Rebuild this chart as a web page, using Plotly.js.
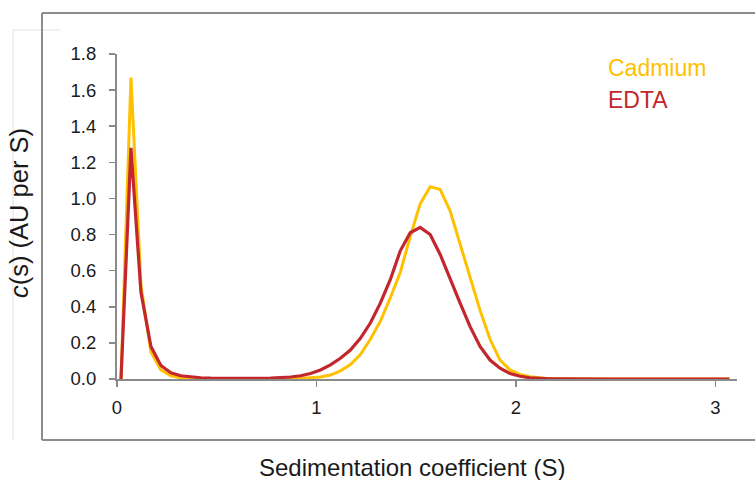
<!DOCTYPE html>
<html>
<head>
<meta charset="utf-8">
<script src="https://cdn.plot.ly/plotly-3.0.1.min.js"></script>
<style>html,body{margin:0;padding:0;background:#fff;}#chart{width:755px;height:480px;}</style>
</head>
<body>
<div id="chart"></div>
<script>
// Sedimentation coefficient (S)
const sedS = [0.02,0.07,0.12,0.17,0.22,0.27,0.32,0.37,0.42,0.47,0.52,0.57,0.62,0.67,0.72,0.77,0.82,0.87,0.92,0.97,
  1.02,1.07,1.12,1.17,1.22,1.27,1.32,1.37,1.42,1.47,1.52,1.57,1.62,1.67,1.72,1.77,1.82,1.87,1.92,1.97,
  2.02,2.07,2.12,2.17,2.22,2.27,2.32,2.37,2.42,2.47,2.52,2.57,2.62,2.67,2.72,2.77,2.82,2.87,2.92,2.97,3.02,3.07];
// c(s) Cadmium
const cadmium = [0,1.67,0.52,0.15,0.05,0.018,0.007,0.003,0.002,0.001,0.001,0.001,0.001,0.001,0.001,0.001,0.001,0.002,0.004,0.007,
  0.011,0.022,0.045,0.08,0.135,0.22,0.32,0.45,0.59,0.79,0.97,1.065,1.05,0.93,0.75,0.565,0.38,0.22,0.105,0.05,
  0.025,0.012,0.005,0.002,0.001,0,0,0,0,0,0,0,0,0,0,0,0,0,0,0,0,0];
// c(s) EDTA
const edta = [0,1.28,0.48,0.18,0.075,0.035,0.018,0.011,0.007,0.005,0.004,0.003,0.003,0.003,0.004,0.005,0.007,0.011,0.018,0.03,
  0.05,0.078,0.115,0.16,0.225,0.31,0.42,0.55,0.71,0.81,0.84,0.80,0.69,0.55,0.42,0.29,0.18,0.105,0.06,0.03,
  0.015,0.007,0.003,0.001,0.001,0,0,0,0,0,0,0,0,0,0,0,0,0,0,0,0,0];
const seriesNames = ['Cadmium','EDTA'];
const seriesColors = ['#FFC000','#C1272D'];

const font = 'Liberation Sans, Arial, sans-serif';
const traces = [
  {x: sedS, y: cadmium, name: seriesNames[0], type: 'scatter', mode: 'lines', line: {color: seriesColors[0], width: 3}},
  {x: sedS, y: edta, name: seriesNames[1], type: 'scatter', mode: 'lines', line: {color: seriesColors[1], width: 3.2}}
];

function px(x){return (x-117)/620;}
function py(y){return (379-y)/325;}

const layout = {
  width: 755, height: 480,
  margin: {l: 117, r: 18, t: 54, b: 101},
  paper_bgcolor: '#fff', plot_bgcolor: '#fff',
  showlegend: false,
  font: {family: font, color: '#1a1a1a'},
  xaxis: {
    range: [0, 3.108], dtick: 1, tick0: 0, showgrid: false, zeroline: false,
    showline: true, linecolor: '#8a8a8a', linewidth: 2,
    ticks: 'outside', ticklen: 6, tickwidth: 1.5, tickcolor: '#8a8a8a',
    tickfont: {family: font, size: 18.5, color: '#1a1a1a'}, ticklabelstandoff: 5
  },
  yaxis: {
    range: [0, 1.8], dtick: 0.2, tick0: 0, tickformat: '.1f', showgrid: false, zeroline: false,
    showline: true, linecolor: '#8a8a8a', linewidth: 2,
    ticks: 'outside', ticklen: 6, tickwidth: 1.5, tickcolor: '#8a8a8a',
    tickfont: {family: font, size: 18.5, color: '#1a1a1a'}, ticklabelstandoff: 9
  },
  annotations: [
    {xref: 'paper', yref: 'paper', x: px(606), y: py(68), xanchor: 'left', yanchor: 'middle', showarrow: false,
     text: seriesNames[0], font: {family: font, size: 23, color: seriesColors[0]}},
    {xref: 'paper', yref: 'paper', x: px(606), y: py(100), xanchor: 'left', yanchor: 'middle', showarrow: false,
     text: seriesNames[1], font: {family: font, size: 23, color: seriesColors[1]}},
    {xref: 'paper', yref: 'paper', x: px(412), y: py(467), xanchor: 'center', yanchor: 'middle', showarrow: false,
     text: 'Sedimentation coefficient (S)', font: {family: font, size: 24, color: '#1a1a1a'}},
    {xref: 'paper', yref: 'paper', x: px(19), y: py(213), xanchor: 'center', yanchor: 'middle', showarrow: false, textangle: -90,
     text: '<i>c</i>(s) (AU per S)', font: {family: font, size: 25.5, color: '#1a1a1a'}}
  ],
  shapes: [
    {type: 'line', xref: 'paper', yref: 'paper', x0: px(13), x1: px(60), y0: py(30), y1: py(30), line: {color: '#e2e2e2', width: 1}},
    {type: 'line', xref: 'paper', yref: 'paper', x0: px(13), x1: px(13), y0: py(30), y1: py(440), line: {color: '#e2e2e2', width: 1}},
    {type: 'line', xref: 'paper', yref: 'paper', x0: px(42), x1: px(755), y0: py(13), y1: py(13), line: {color: '#8c8c8c', width: 2}},
    {type: 'line', xref: 'paper', yref: 'paper', x0: px(42), x1: px(42), y0: py(13), y1: py(440), line: {color: '#8c8c8c', width: 2}},
    {type: 'line', xref: 'paper', yref: 'paper', x0: px(42), x1: px(755), y0: py(440), y1: py(440), line: {color: '#8c8c8c', width: 2}}
  ]
};

Plotly.newPlot('chart', traces, layout, {displayModeBar: false, staticPlot: true});
</script>
</body>
</html>
